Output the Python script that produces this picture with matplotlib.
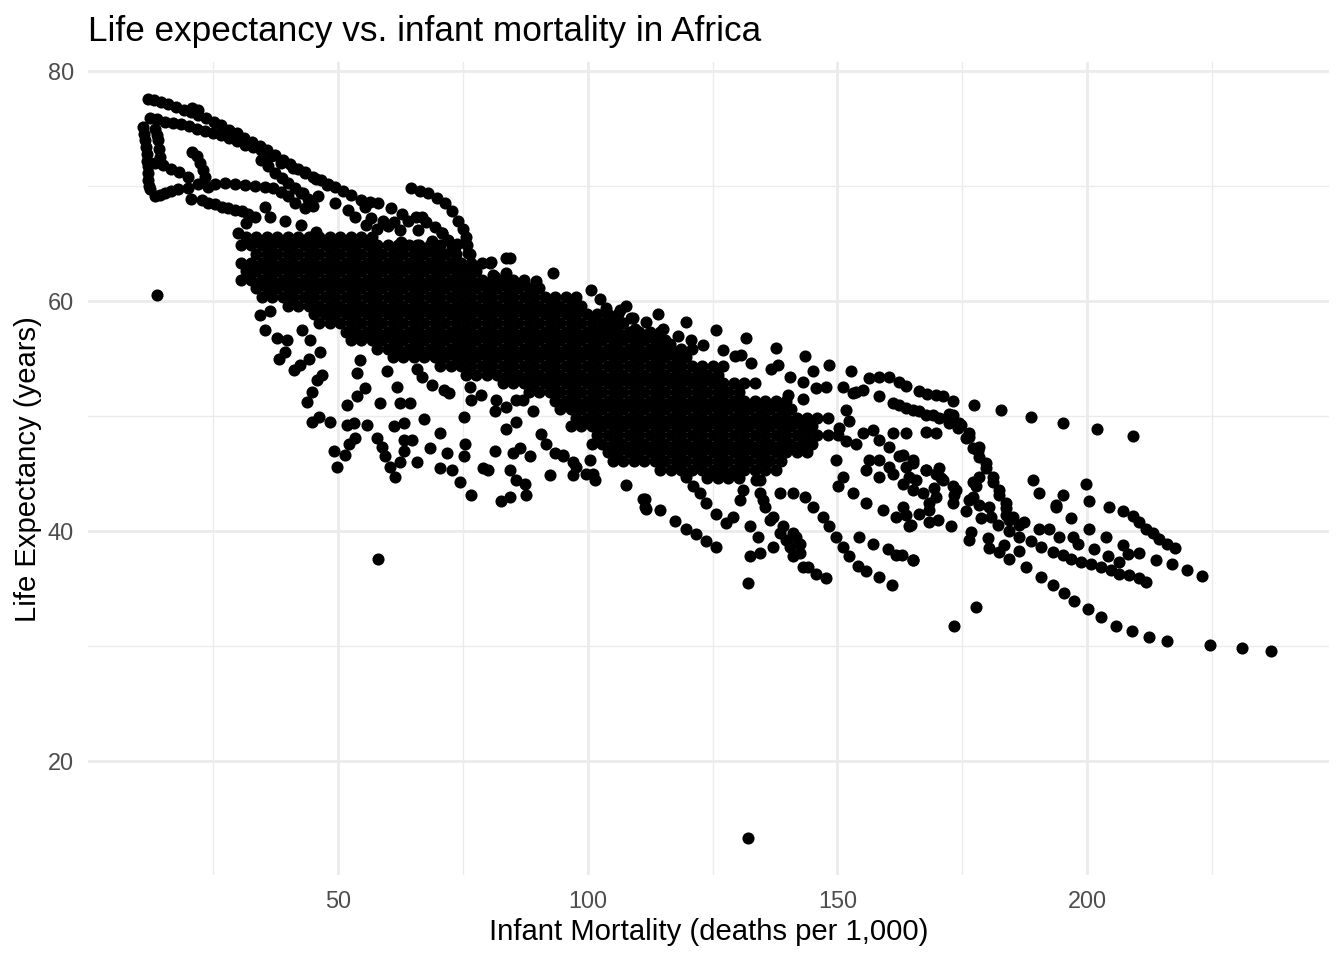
import matplotlib
matplotlib.use("Agg")
import matplotlib.pyplot as plt

# (infant mortality, life expectancy), grouped by region

# top-left: the long upper band and the second row under it
band_top = [(12.0, 77.6), (13.2, 77.5), (14.6, 77.3), (16.0, 77.1), (17.5, 76.9), (19.1, 76.6),
            (20.6, 76.4), (22.0, 76.2), (23.6, 75.9), (25.1, 75.6), (26.6, 75.3), (28.2, 74.9),
            (29.7, 74.6), (31.2, 74.2), (32.8, 73.8), (34.3, 73.5), (35.8, 73.1), (37.3, 72.7),
            (38.9, 72.3), (40.4, 71.9), (41.9, 71.5), (43.4, 71.2), (45.0, 70.8), (46.5, 70.5),
            (48.0, 70.2), (49.4, 69.9), (51.0, 69.6), (52.6, 69.2), (54.6, 68.8), (56.4, 68.6),
            (58.0, 68.5), (60.6, 68.1), (62.7, 67.6), (64.0, 67.0), (22.0, 76.6), (20.8, 76.8)]
band_second = [(12.3, 75.9), (13.8, 75.8), (15.4, 75.6), (17.0, 75.5), (18.6, 75.4), (20.2, 75.2),
               (21.8, 75.0), (23.4, 74.8), (25.0, 74.6), (26.6, 74.4), (28.2, 74.2), (29.8, 73.9),
               (31.4, 73.6), (33.0, 73.4), (34.6, 73.1), (36.6, 72.6), (38.6, 72.0), (40.9, 71.6),
               (43.4, 71.1), (45.6, 70.6), (47.8, 70.1),
               (34.6, 72.3), (36.0, 71.7), (37.4, 71.1), (38.7, 70.7), (40.0, 70.3), (41.3, 69.8),
               (42.6, 69.4), (43.9, 68.9), (45.0, 68.3)]

# the loop at the far left and the lines leaving it
loop_pts = [(11.0, 75.1), (11.2, 74.5), (11.3, 74.0), (11.5, 73.4), (11.7, 72.8), (11.8, 72.2),
            (11.9, 71.7), (12.0, 71.1), (12.0, 70.5), (12.2, 70.0), (12.3, 69.7), (13.3, 69.1),
            (14.3, 69.2), (15.3, 69.4), (16.6, 69.6), (18.0, 69.7),
            (13.3, 75.0), (13.8, 74.4), (14.0, 74.0), (14.2, 73.2), (14.3, 72.5),
            (13.3, 72.0), (14.9, 71.8), (16.5, 71.5), (18.2, 71.2), (20.0, 70.8),
            (20.7, 73.0), (21.7, 72.6), (22.3, 72.0), (23.0, 71.4), (23.3, 70.8), (22.0, 70.2),
            (20.0, 69.8)]
left_lines = [(24.0, 69.9), (25.3, 70.2), (27.3, 70.3), (29.3, 70.2), (31.3, 70.1), (33.3, 70.0),
              (35.3, 69.9), (37.0, 69.8), (38.6, 69.5), (40.0, 69.1), (41.3, 68.5), (43.3, 68.1),
              (43.0, 69.4),
              (20.6, 68.9), (22.7, 68.8), (24.0, 68.5), (25.4, 68.4), (26.7, 68.2), (28.0, 68.1),
              (29.3, 67.9), (30.7, 67.8), (32.0, 67.6), (33.3, 67.3),
              (35.3, 68.2), (36.4, 67.3), (39.4, 67.0), (42.6, 66.6), (45.6, 66.0), (48.4, 65.5),
              (51.4, 65.0), (30.0, 65.9), (31.5, 66.8),
              (46.0, 69.1), (49.3, 68.5), (52.0, 67.9), (53.3, 67.3), (55.3, 68.2),
              (55.5, 66.6), (57.8, 66.3), (60.0, 66.5), (62.3, 66.2), (56.6, 67.2), (59.0, 67.0),
              (61.2, 66.9)]
hump_pts = [(64.6, 69.8), (66.3, 69.6), (68.0, 69.4), (69.7, 69.0), (71.4, 68.5), (72.8, 67.8),
            (74.0, 67.0), (74.9, 66.3), (75.6, 65.6), (75.9, 64.9), (76.0, 64.2), (76.4, 63.0),
            (65.6, 67.3), (67.5, 66.9), (69.4, 66.4), (70.8, 65.9), (72.0, 65.3), (72.8, 64.7),
            (73.4, 64.2), (62.6, 65.1), (66.0, 64.7), (68.6, 64.7), (66.7, 67.3), (66.0, 66.2),
            (68.7, 65.2), (70.7, 65.9), (73.3, 64.7), (62.7, 65.0), (65.7, 64.9), (68.4, 64.7),
            (69.7, 64.0), (73.7, 65.0), (76.4, 64.1), (80.6, 63.4), (81.4, 62.1), (83.6, 63.7)]

# the dense cloud: infant mortality columns (two staggered sets) and, per row,
# its life expectancy and the infant mortality span it covers
cloud_cols_even = [31.5, 33.6, 35.7, 37.8, 39.9, 42.0, 44.1, 46.2, 48.3, 50.4, 52.5, 54.6, 56.7,
                   58.8, 60.9, 63.0, 65.1, 67.2, 69.3, 71.4, 73.5, 75.6, 77.7, 79.8, 81.9, 84.0,
                   86.1, 88.2, 90.3, 92.4, 94.5, 96.6, 98.7, 100.8, 102.9, 105.0, 107.1, 109.2,
                   111.3, 113.4, 115.5, 117.6, 119.7, 121.8, 123.9, 126.0, 128.1, 130.2, 132.3,
                   134.4, 136.5, 138.6, 140.7, 142.8, 144.9, 147.0, 149.1]
cloud_cols_odd = [30.5, 32.6, 34.7, 36.8, 38.9, 41.0, 43.1, 45.2, 47.3, 49.4, 51.5, 53.6, 55.7,
                  57.8, 59.9, 62.0, 64.1, 66.2, 68.3, 70.4, 72.5, 74.6, 76.7, 78.8, 80.9, 83.0,
                  85.1, 87.2, 89.3, 91.4, 93.5, 95.6, 97.7, 99.8, 101.9, 104.0, 106.1, 108.2,
                  110.3, 112.4, 114.5, 116.6, 118.7, 120.8, 122.9, 125.0, 127.1, 129.2, 131.3,
                  133.4, 135.5, 137.6, 139.7, 141.8, 143.9, 146.0, 148.1, 150.2]
cloud_row_y = [65.6, 64.85, 64.1, 63.35, 62.6, 61.85, 61.1, 60.35, 59.6, 58.85, 58.1, 57.35,
               56.6, 55.85, 55.1, 54.35, 53.6, 52.85, 52.1, 51.35, 50.6, 49.85, 49.1, 48.35,
               47.6, 46.85, 46.1, 45.35, 44.6]
cloud_row_lo = [31.5, 30.0, 31.8, 30.0, 31.0, 30.2, 32.0, 34.5, 38.5, 44.0, 46.0, 51.5,
                52.5, 57.5, 60.0, 69.5, 74.0, 82.5, 86.5, 93.5, 94.0, 97.5, 96.5, 100.0,
                99.0, 103.0, 104.0, 113.5, 122.0]
cloud_row_hi = [58.5, 71.5, 75.0, 79.5, 78.5, 87.5, 91.0, 99.5, 100.5, 107.5, 108.5, 114.5,
                116.0, 121.5, 121.5, 127.5, 126.0, 133.5, 131.0, 140.0, 141.5, 148.5, 146.0,
                150.5, 145.5, 145.0, 139.0, 139.5, 132.0]

# scattered points above the right half of the cloud
upper_scatter = [(84.4, 63.7), (83.7, 62.4), (81.1, 62.3), (80.4, 63.3), (93.1, 62.4), (89.7, 61.7),
                 (87.1, 61.5), (100.7, 61.0), (102.4, 60.2), (103.7, 59.4), (104.1, 58.4),
                 (103.7, 57.6), (107.7, 59.6), (109.1, 58.5), (109.4, 57.6), (109.7, 56.6),
                 (111.7, 58.2), (106.4, 59.2), (108.7, 58.5), (106.4, 58.1), (114.1, 58.9),
                 (115.1, 57.6), (112.1, 57.0), (114.4, 56.6), (116.4, 56.3), (118.1, 57.0),
                 (119.7, 58.2), (120.7, 56.6), (123.1, 56.2), (125.7, 57.5), (127.1, 55.7),
                 (129.4, 55.2), (130.7, 55.3), (132.7, 54.6), (131.7, 56.8), (137.7, 55.9),
                 (136.7, 54.1), (138.1, 54.4), (140.4, 53.4), (140.1, 51.8), (143.4, 55.2),
                 (145.1, 53.9), (143.1, 53.0), (143.1, 51.5), (145.7, 52.4), (147.7, 52.5),
                 (148.4, 54.4), (151.1, 52.5), (152.7, 53.9), (151.7, 50.5), (153.7, 52.1)]

# scattered points under the left half of the cloud
lower_scatter = [(34.4, 58.8), (36.3, 59.1), (35.4, 57.5), (37.7, 56.8), (39.7, 56.6), (38.1, 55.0),
                 (39.4, 55.6), (41.1, 54.0), (42.4, 54.4), (44.1, 55.0), (42.7, 57.5), (44.4, 56.6),
                 (46.4, 55.6), (43.7, 51.2), (44.7, 52.1), (45.7, 53.1), (46.7, 53.6), (44.7, 49.5),
                 (46.1, 49.9), (48.4, 49.5), (49.1, 47.0), (51.4, 46.6), (49.7, 45.6), (51.7, 49.2),
                 (53.1, 49.4), (52.1, 47.6), (53.4, 48.1), (51.7, 51.0), (53.7, 51.7), (55.4, 52.4),
                 (54.4, 54.9), (53.7, 53.7), (55.7, 49.2), (57.7, 48.1), (58.7, 47.3), (59.4, 46.5),
                 (60.4, 45.6), (61.4, 44.7), (62.4, 46.0), (58.4, 51.1), (61.1, 49.1), (63.1, 49.4),
                 (59.7, 53.9), (61.7, 52.5), (62.4, 51.1), (64.4, 51.1), (63.1, 47.9), (64.7, 47.9),
                 (63.1, 47.0), (65.7, 46.0), (67.1, 49.7), (68.4, 47.2), (68.7, 52.7), (71.1, 52.3),
                 (72.1, 52.0), (66.7, 53.4), (65.7, 54.1), (70.4, 48.5), (70.4, 45.5), (71.7, 46.8),
                 (72.7, 45.3), (74.4, 44.3), (75.1, 46.5), (75.4, 47.6), (75.1, 49.9), (76.7, 43.1),
                 (76.4, 52.5), (76.7, 51.4), (78.7, 51.8), (79.1, 45.5), (80.1, 45.3), (81.4, 47.0),
                 (81.7, 51.4), (81.4, 50.4), (83.7, 50.8), (85.7, 51.4), (87.1, 51.4), (83.7, 48.9),
                 (85.7, 49.5), (85.1, 46.8), (86.4, 47.2), (84.4, 45.3), (85.7, 44.4), (87.4, 44.1),
                 (87.7, 43.1), (84.4, 43.0), (82.7, 42.6), (88.4, 46.5), (89.1, 50.4), (90.7, 48.4),
                 (92.4, 44.9), (91.7, 47.6), (93.4, 46.8), (95.1, 46.5), (97.7, 45.6), (99.7, 45.0),
                 (101.4, 44.4)]

# lower middle: the lines running down from the cloud
middle_low = [(95.1, 46.6), (97.1, 46.0), (97.1, 44.9), (100.4, 46.2), (101.1, 45.0), (107.7, 44.0),
              (111.4, 42.8), (111.7, 41.9), (114.4, 41.8), (117.4, 40.9), (119.7, 40.2), (121.7, 39.7),
              (123.7, 39.1), (125.7, 38.6), (111.1, 42.8), (111.4, 42.1),
              (129.1, 41.2), (132.4, 40.4), (134.1, 39.5), (132.4, 37.8), (134.4, 38.1), (137.1, 38.6),
              (139.7, 39.2), (141.7, 39.5), (141.1, 37.8), (143.1, 36.9), (145.7, 36.3), (147.7, 35.9),
              (134.4, 44.4), (135.1, 42.7), (137.1, 41.2), (139.1, 40.4), (141.1, 39.8), (142.4, 38.9),
              (138.4, 43.3), (141.1, 43.3), (143.4, 43.0), (145.1, 42.1), (147.1, 41.2), (148.4, 40.4),
              (149.7, 39.5), (151.1, 38.6), (152.4, 37.8), (154.1, 37.0), (155.7, 36.5), (158.4, 36.0),
              (161.0, 35.3), (154.4, 39.5), (157.1, 38.9), (160.1, 38.4), (161.7, 37.9), (165.1, 37.5),
              (119.7, 44.7), (121.1, 43.9), (122.4, 43.3), (123.7, 42.4), (125.7, 41.5), (127.7, 40.7),
              (130.4, 42.7), (131.1, 43.6), (133.7, 44.4), (134.4, 43.3), (135.4, 42.1), (136.4, 41.0),
              (138.4, 39.8), (140.4, 38.6), (142.4, 38.1), (144.1, 36.9)]

# right of the cloud: humps and points between 150 and 180
right_pts = [(149.7, 46.2), (151.1, 44.7), (150.1, 43.9), (153.1, 43.3), (155.7, 42.4), (159.1, 41.8),
             (161.7, 41.2), (164.4, 40.4), (156.4, 46.2), (158.4, 44.7), (160.4, 45.6), (161.1, 45.0),
             (163.1, 44.1), (165.1, 43.6), (167.1, 43.3), (168.4, 42.4), (161.1, 48.5), (163.7, 48.5),
             (167.7, 48.6), (169.7, 48.5), (171.1, 44.4), (173.7, 43.6), (176.4, 42.7), (177.7, 43.9),
             (150.4, 49.0), (152.4, 49.6), (151.7, 47.8), (153.7, 47.6), (155.1, 48.5), (157.1, 48.8),
             (158.4, 47.9), (160.4, 47.3), (155.7, 45.3), (158.4, 46.2), (163.7, 45.6), (162.4, 46.5),
             (165.1, 46.2), (165.7, 44.4), (167.7, 45.3), (169.7, 45.0),
             (156.4, 53.3), (158.4, 53.4), (160.4, 53.4), (162.4, 53.0), (163.7, 52.6), (166.4, 52.2),
             (168.0, 51.9), (169.7, 51.8), (171.1, 51.7), (173.1, 51.3),
             (153.1, 52.0), (155.1, 52.3), (158.4, 51.7), (161.1, 51.1), (163.7, 50.7), (166.4, 50.4),
             (169.1, 50.1), (172.4, 50.2), (174.4, 49.4), (176.4, 48.5), (178.4, 47.3)]

# right tail beyond 160
tail_pts = [(177.3, 51.0), (182.7, 50.5), (188.7, 49.9), (195.1, 49.4), (201.9, 48.9), (209.2, 48.3),
            (173.1, 50.1), (174.7, 49.2), (176.4, 48.2), (178.1, 47.0), (179.7, 45.9), (181.1, 44.7),
            (182.4, 43.6), (183.7, 42.4), (185.1, 41.2),
            (162.4, 51.0), (165.1, 50.5), (167.7, 50.1), (170.4, 49.8), (172.4, 49.4), (174.1, 49.0),
            (175.7, 48.1), (177.1, 47.2), (178.4, 46.4), (179.7, 45.5), (181.1, 44.3), (182.4, 43.1),
            (183.7, 42.0), (184.4, 41.0), (187.4, 40.8), (190.4, 40.2), (192.4, 40.2),
            (188.7, 39.1), (190.7, 38.6), (193.1, 38.2), (195.1, 37.9), (196.7, 37.6), (198.7, 37.3),
            (200.7, 37.1), (202.7, 36.9), (204.7, 36.6), (206.4, 36.3), (208.4, 36.2), (210.4, 35.9),
            (211.7, 35.6),
            (186.4, 38.3), (187.7, 36.9), (190.7, 36.0), (193.1, 35.3), (195.4, 34.6), (197.4, 33.9),
            (200.1, 33.2), (202.7, 32.5), (205.7, 31.7), (208.9, 31.3), (212.4, 30.8), (216.1, 30.4),
            (224.7, 30.1), (231.1, 29.8), (236.9, 29.6),
            (199.7, 44.1), (200.3, 42.6), (200.4, 40.2), (204.4, 42.1), (207.2, 41.7), (209.1, 41.3),
            (210.4, 40.8), (211.7, 40.2), (213.1, 39.8), (214.4, 39.3), (216.1, 38.9), (217.7, 38.5),
            (193.7, 42.1), (195.1, 43.1), (196.7, 41.1), (194.4, 39.5), (197.1, 39.5), (198.1, 38.9),
            (201.4, 38.4), (203.7, 39.5), (204.1, 37.8), (206.4, 37.3), (207.1, 38.8), (208.1, 38.0),
            (210.4, 38.1), (213.7, 37.5), (217.1, 37.1), (220.1, 36.6), (223.1, 36.1),
            (163.1, 46.6), (165.1, 45.9), (164.4, 44.7), (167.7, 45.3), (170.4, 45.5), (170.7, 44.6),
            (169.4, 43.7), (169.7, 43.0), (173.1, 43.9), (173.4, 43.1), (173.1, 42.4), (177.1, 44.3),
            (178.4, 44.7), (177.1, 43.0), (178.4, 42.3), (175.7, 41.7), (178.7, 41.1), (180.4, 42.1),
            (180.7, 41.2), (182.1, 40.5), (183.7, 41.4), (184.4, 40.0), (186.4, 40.5), (186.4, 39.5),
            (183.4, 38.8), (180.4, 38.5), (182.4, 38.2), (184.4, 37.6), (163.1, 42.1), (163.7, 41.4),
            (166.4, 41.5), (168.4, 41.8), (164.7, 40.5), (168.4, 40.8), (170.1, 41.0), (172.7, 40.4),
            (176.7, 39.9), (176.4, 39.2), (180.1, 39.4), (189.1, 44.4), (190.4, 43.3), (193.7, 42.3),
            (162.9, 37.9), (165.1, 37.5)]

outliers = [(13.8, 60.5), (58.0, 37.6), (132.0, 13.3), (132.0, 35.5), (173.4, 31.7), (177.7, 33.4)]

groups = [band_top, band_second, loop_pts, left_lines, hump_pts, upper_scatter,
          lower_scatter, middle_low, right_pts, tail_pts, outliers]

xs, ys = [], []
for g in groups:
    for px, py in g:
        xs.append(px)
        ys.append(py)
for i, row_y in enumerate(cloud_row_y):
    cols = cloud_cols_even if i % 2 == 0 else cloud_cols_odd
    for px in cols:
        if cloud_row_lo[i] <= px <= cloud_row_hi[i]:
            xs.append(px)
            ys.append(row_y)

plt.rcParams['font.family'] = ['Liberation Sans', 'DejaVu Sans']

W, H = 1344, 960
fig = plt.figure(figsize=(W / 100, H / 100), dpi=100)
ax = fig.add_axes([88.3 / W, (H - 875) / H, (1329 - 88.3) / W, (875 - 62.3) / H])

ax.scatter(xs, ys, s=76, c='black', linewidths=0, zorder=3)

ax.set_xlim(-0.05, 248.45)
ax.set_ylim(10.09, 80.76)
ax.set_xticks([50, 100, 150, 200])
ax.set_xticks([25, 75, 125, 175, 225], minor=True)
ax.set_yticks([20, 40, 60, 80])
ax.set_yticks([30, 50, 70], minor=True)
ax.grid(which='major', color='#EBEBEB', linewidth=1.95, zorder=0)
ax.grid(which='minor', color='#EBEBEB', linewidth=1.0, zorder=0)
ax.set_axisbelow(True)
for s in ax.spines.values():
    s.set_visible(False)
ax.tick_params(which='both', length=0, labelsize=16.9, labelcolor='#4D4D4D', pad=10.5)

fig.text(88.3 / W, 1 - 40.7 / H, "Life expectancy vs. infant mortality in Africa",
         fontsize=25.3, ha='left', va='baseline', color='black')
fig.text(708.6 / W, 1 - 940 / H, "Infant Mortality (deaths per 1,000)",
         fontsize=21.1, ha='center', va='baseline', color='black')
fig.text(28 / W, 1 - 468.6 / H, "Life Expectancy (years)",
         fontsize=21.1, ha='center', va='center', rotation=90, color='black')

fig.savefig("out.png", dpi=100, facecolor='white')
